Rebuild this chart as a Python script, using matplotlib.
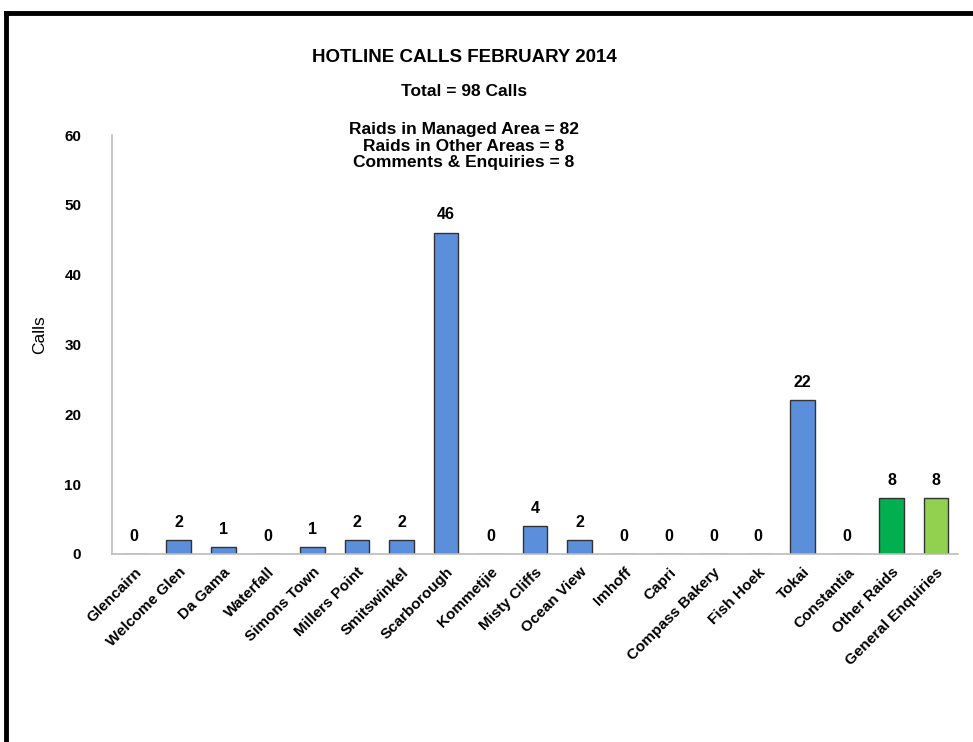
import matplotlib
matplotlib.use("Agg")
import matplotlib.pyplot as plt
from matplotlib.lines import Line2D

categories = ["Glencairn", "Welcome Glen", "Da Gama", "Waterfall", "Simons Town",
              "Millers Point", "Smitswinkel", "Scarborough", "Kommetjie", "Misty Cliffs",
              "Ocean View", "Imhoff", "Capri", "Compass Bakery", "Fish Hoek", "Tokai",
              "Constantia", "Other Raids", "General Enquiries"]
calls = [0, 2, 1, 0, 1, 2, 2, 46, 0, 4, 2, 0, 0, 0, 0, 22, 0, 8, 8]
yticks = [0, 10, 20, 30, 40, 50, 60]

# area bars in blue, then the two green ones
colors = ["#5B8FDB"] * 17 + ["#00B050", "#92D050"]

plt.rcParams["font.family"] = ["Liberation Sans", "DejaVu Sans"]

fig = plt.figure(figsize=(9.73, 7.42), dpi=100)
ax = fig.add_axes([0.115, 0.2534, 0.87, 0.5646])

x = range(len(categories))
ax.bar(x, calls, width=0.55, color=colors, edgecolor="#333333", linewidth=1.0)

for xi, v in zip(x, calls):
    ax.text(xi, v + 1.5, str(v), ha="center", va="bottom", fontsize=11.5, fontweight="bold")

ax.set_xlim(-0.5, len(categories) - 0.5)
ax.set_ylim(0, 60)
ax.set_yticks(yticks)
ax.set_yticklabels([str(t) for t in yticks], fontsize=11, fontweight="bold")
ax.set_xticks(list(x))
ax.set_xticklabels(categories, rotation=45, ha="right", rotation_mode="anchor",
                   fontsize=11, fontweight="bold")
ax.tick_params(axis="both", length=0, pad=8)
ax.tick_params(axis="y", pad=22)

for s in ["top", "right"]:
    ax.spines[s].set_visible(False)
for s in ["left", "bottom"]:
    ax.spines[s].set_color("#BBBBBB")
    ax.spines[s].set_linewidth(1.2)

fig.text(0.041, 0.549, "Calls", rotation=90, ha="center", va="center", fontsize=12.5)

fig.text(0.477, 0.923, "HOTLINE CALLS FEBRUARY 2014", ha="center", va="center",
         fontsize=13.5, fontweight="bold")
fig.text(0.477, 0.877, "Total = 98 Calls", ha="center", va="center",
         fontsize=12.5, fontweight="bold")
fig.text(0.477, 0.803, "Raids in Managed Area = 82\nRaids in Other Areas = 8\nComments & Enquiries = 8",
         ha="center", va="center", fontsize=12.5, fontweight="bold", linespacing=1.15)

# black frame on top and left
fig.add_artist(Line2D([0.0057, 1.0], [0.9825, 0.9825], color="black", linewidth=3.5))
fig.add_artist(Line2D([0.0057, 0.0057], [0.0, 0.9825], color="black", linewidth=3.5))

fig.savefig("out.png", dpi=100)
